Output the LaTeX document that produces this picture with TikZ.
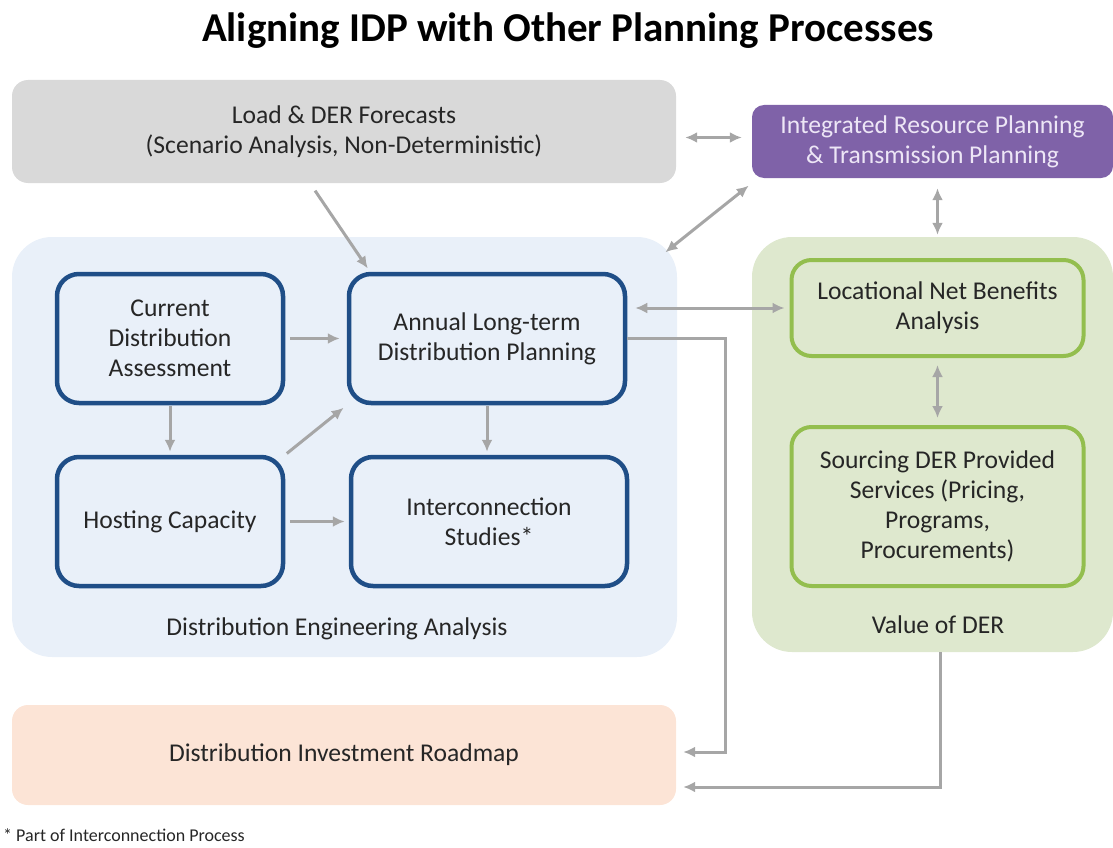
\documentclass[tikz,border=0pt]{standalone}
\usepackage{fontspec}
\setmainfont{Carlito}
\usepackage{xcolor}
\usetikzlibrary{arrows.meta,calc}

\definecolor{txtgray}{HTML}{262626}
\definecolor{loadgray}{HTML}{D9D9D9}
\definecolor{irppurple}{HTML}{7F62A8}
\definecolor{irptext}{HTML}{EDE6F6}
\definecolor{deablue}{HTML}{E9F0F9}
\definecolor{dkblue}{HTML}{1F4E87}
\definecolor{dergreen}{HTML}{DEE8CE}
\definecolor{dkgreen}{HTML}{93BE4E}
\definecolor{roadpeach}{HTML}{FCE4D6}
\definecolor{arrgray}{HTML}{A6A6A6}

\begin{document}
\begin{tikzpicture}[x=1pt, y=-1pt, node distance=183pt,
    >={Latex[length=12pt,width=11pt]},
    every node/.style={font=\fontsize{25.6}{30}\selectfont, text=txtgray, align=center},
    group/.style={rectangle, rounded corners=40pt, inner sep=0pt},
    block/.style={draw=dkblue, line width=4.5pt, rectangle, rounded corners=22pt, minimum width=226pt, minimum height=129pt},
    gblock/.style={draw=dkgreen, line width=4pt, rectangle, rounded corners=20pt, minimum width=292pt},
    link/.style={draw=arrgray, line width=3pt}]

    \useasboundingbox (0,0) rectangle (1113,848);

    \node [font=\bfseries\fontsize{41}{44}\selectfont, text=black] (title) at (568,31) {Aligning IDP with Other Planning Processes};

    % outer areas
    \node [group, fill=loadgray, minimum width=664pt, minimum height=103pt, rounded corners=16pt] (load) at (344,131.5)
          {Load \& DER Forecasts\\(Scenario Analysis, Non-Deterministic)};
    \node [group, fill=irppurple, minimum width=361pt, minimum height=73pt, rounded corners=12pt, text=irptext] (irp) at (932.5,141.5)
          {Integrated Resource Planning\\\& Transmission Planning};
    \node [group, fill=deablue, minimum width=665pt, minimum height=420pt] (dea) at (344.5,447) {};
    \node [group, fill=dergreen, minimum width=361pt, minimum height=415pt] (val) at (932.5,444.5) {};
    \node [group, fill=roadpeach, minimum width=664pt, minimum height=100pt, rounded corners=16pt] (road) at (344,755)
          {Distribution Investment Roadmap};

    \node (dealabel) at (337,629) {Distribution Engineering Analysis};
    \node (vallabel) at (938,625) {Value of DER};

    % engineering blocks
    \node [block] (cda) at (170,338.5) {Current\\Distribution\\Assessment};
    \node [block, minimum width=276pt, right of=cda, xshift=134pt] (alt) {Annual Long-term\\Distribution Planning};
    \node [block, below of=cda] (hc) {Hosting Capacity};
    \node [block, minimum width=276pt, right of=hc, xshift=136pt] (ics) {Interconnection\\Studies*};

    % value blocks
    \node [gblock, minimum height=96pt] (lnb) at (937.5,308) {Locational Net Benefits\\Analysis};
    \node [gblock, minimum height=159pt, below of=lnb, yshift=-15.5pt] (sdp)
          {Sourcing DER Provided\\Services (Pricing,\\Programs,\\Procurements)};

    \node [anchor=west, font=\fontsize{18}{20}\selectfont, inner sep=1pt] (note) at (2,835) {* Part of Interconnection Process};

    \coordinate (j1) at (725,752);
    \coordinate (j2) at (940,787);

    % connectors
    \draw [link, ->, shorten <=9pt, shorten >=4pt] ([xshift=-34pt]load.south) -- ([xshift=-117pt]alt.north);
    \draw [link, <->, shorten <=9pt, shorten >=10pt] ($(load.east)!0.5!(load.east |- irp.west)+(0,1)$) -- ($(irp.west)+(0,-4)$);
    \draw [link, <->, shorten <=4pt, shorten >=4pt] ([xshift=-15pt,yshift=-18pt]dea.north east) -- ([yshift=-5pt]irp.south west);
    \draw [link, <->, shorten <=10pt, shorten >=2pt] (lnb.north |- irp.south) -- (lnb.north |- val.north);
    \draw [link, <->, shorten <=8pt, shorten >=5pt] (alt.east |- lnb.west) -- (lnb.west);
    \draw [link, <->, shorten <=7pt, shorten >=7pt] (lnb.south) -- (sdp.north);

    \draw [link, ->, shorten <=5pt, shorten >=7pt] (cda.east) -- (alt.west);
    \draw [link, ->, shorten <=1pt, shorten >=3pt] (cda.south) -- (cda.south |- hc.north);
    \draw [link, ->, shorten <=2pt, shorten >=4pt] (hc.north east) -- (alt.south west);
    \draw [link, ->, shorten <=1pt, shorten >=3pt] (alt.south) -- (alt.south |- ics.north);
    \draw [link, ->, shorten <=5pt, shorten >=4pt] (hc.east) -- (ics.west);

    \draw [link, ->, shorten >=7pt] (alt.east) -| (j1) -- (road.east |- j1);
    \draw [link, ->, shorten >=7pt] (j2 |- val.south) -- (j2) -- (road.east |- j2);
\end{tikzpicture}
\end{document}
